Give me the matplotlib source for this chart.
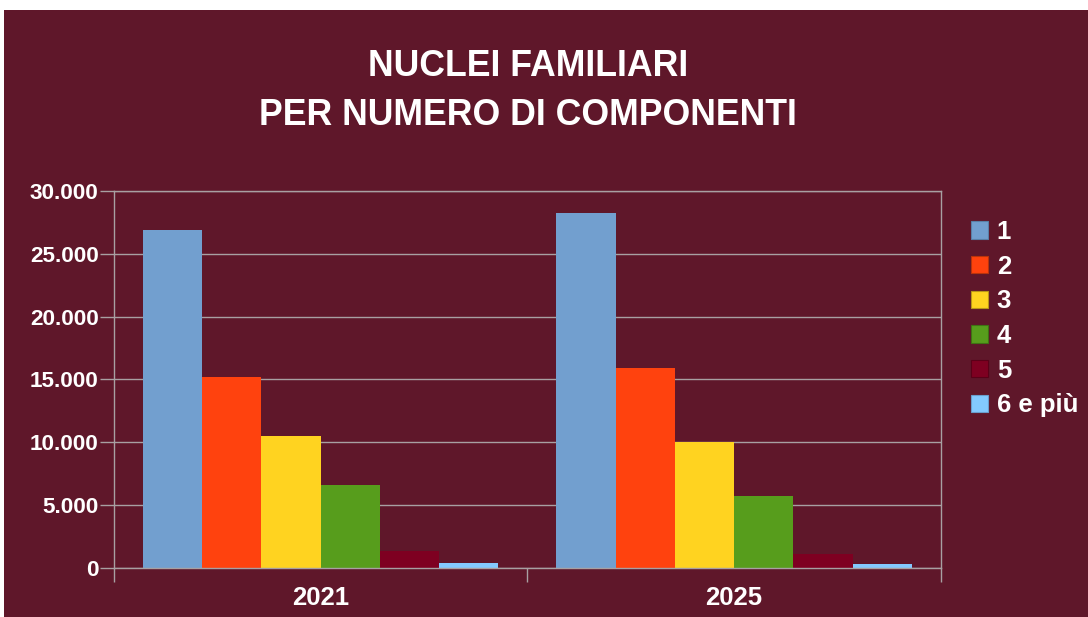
import matplotlib
matplotlib.use("Agg")
import matplotlib.pyplot as plt
from matplotlib.patches import Rectangle, Patch
from matplotlib.ticker import FuncFormatter
import numpy as np

years = ["2021", "2025"]
components = ["1", "2", "3", "4", "5", "6 e più"]
values_2021 = [26900, 15200, 10500, 6600, 1330, 370]
values_2025 = [28250, 15900, 10000, 5700, 1090, 300]
colors = ["#729fcf", "#ff420e", "#ffd320", "#579d1c", "#7e0021", "#83caff"]
edge_colors = ["#5a7fa6", "#b8340c", "#b89618", "#3f7214", "#5a0018", "#6a9ecc"]

bg = "#5f172a"
grid_color = "#a8a0a2"

plt.rcParams["font.family"] = ["Liberation Sans", "DejaVu Sans"]
plt.rcParams["font.weight"] = "bold"

fig = plt.figure(figsize=(10.88, 6.17), dpi=100)
fig.patch.set_facecolor("white")
fig.patches.append(Rectangle((4 / 1088, 0), 1, 1 - 10 / 617, transform=fig.transFigure,
                             facecolor=bg, edgecolor="none", zorder=-10))

ax = fig.add_axes([114 / 1088, 1 - 567.7 / 617, (940.7 - 114) / 1088, (567.7 - 191) / 617])
ax.set_facecolor(bg)

x = np.arange(len(years))
w = 0.86 / len(components)
for i, (comp, col) in enumerate(zip(components, colors)):
    vals = [values_2021[i], values_2025[i]]
    ax.bar(x + (i - 2.5) * w, vals, width=w, color=col, zorder=3, label=comp)

ax.set_xlim(-0.5, 1.5)
ax.set_ylim(0, 30000)
ax.set_yticks(range(0, 30001, 5000))
ax.yaxis.set_major_formatter(FuncFormatter(lambda v, p: f"{int(v):,}".replace(",", ".")))
ax.set_xticks(x)
ax.set_xticklabels(years)
ax.set_xticks([-0.5, 0.5, 1.5], minor=True)
ax.tick_params(axis="x", which="major", length=0, pad=13, labelsize=18.5, colors="white")
ax.tick_params(axis="x", which="minor", length=10, width=1, color=grid_color)
ax.tick_params(axis="y", length=10, width=1, color=grid_color, pad=1, labelsize=16.2, labelcolor="white")
for lab in ax.get_xticklabels() + ax.get_yticklabels():
    lab.set_fontweight("bold")

ax.yaxis.grid(True, color=grid_color, linewidth=1, zorder=1)
ax.set_axisbelow(True)
for s in ax.spines.values():
    s.set_color(grid_color)
    s.set_linewidth(1)
ax.spines["bottom"].set_zorder(4)

fig.text(528 / 1088, 1 - 91 / 617, "NUCLEI FAMILIARI\nPER NUMERO DI COMPONENTI",
         ha="center", va="center", color="white", fontsize=25.7, fontweight="bold",
         linespacing=1.5)

handles = [Patch(facecolor=c, edgecolor=e, linewidth=0.8) for c, e in zip(colors, edge_colors)]
leg = fig.legend(handles, components, loc="upper left",
                 bbox_to_anchor=(971 / 1088, 1 - 220 / 617),
                 frameon=False, fontsize=18.5, handlelength=0.65, handleheight=0.65,
                 handletextpad=0.35, labelspacing=0.415, borderpad=0, borderaxespad=0)
for t in leg.get_texts():
    t.set_color("white")
    t.set_fontweight("bold")

fig.savefig("out.png", dpi=100, facecolor=fig.get_facecolor())
